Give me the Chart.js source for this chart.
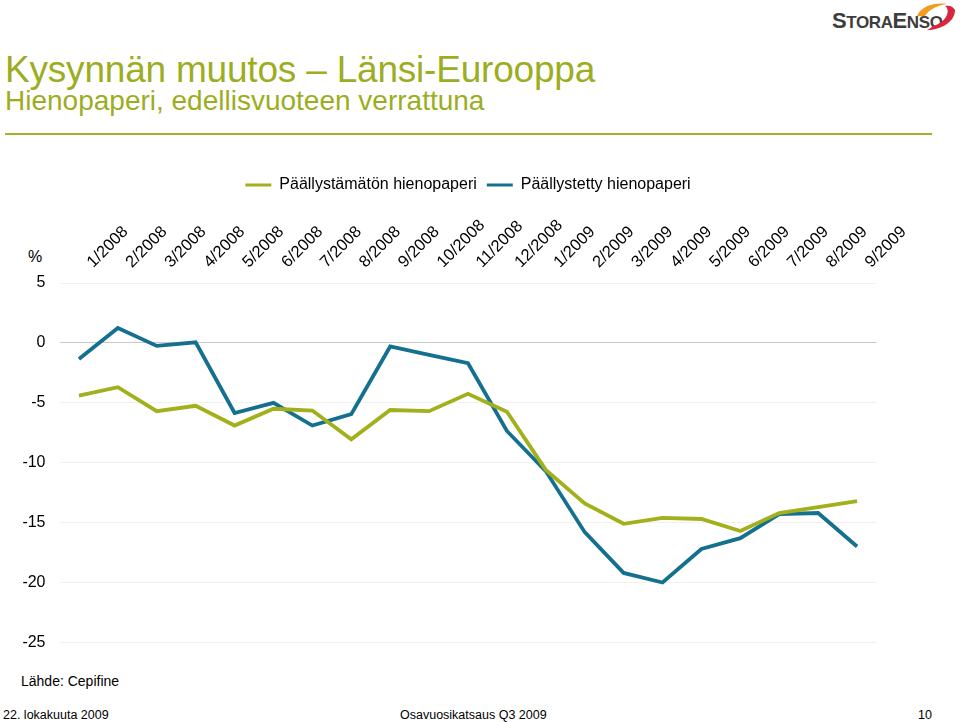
<!DOCTYPE html>
<html>
<head>
<meta charset="utf-8">
<script src="https://cdn.jsdelivr.net/npm/chart.js@4.4.1/dist/chart.umd.min.js"></script>
<style>
  html, body { margin: 0; padding: 0; background: #fff; overflow: hidden; }
  body { width: 960px; height: 722px; position: relative; font-family: "Liberation Sans", Arial, sans-serif; }
  .abs { position: absolute; white-space: nowrap; line-height: 1; }
  #title { left: 5px; top: 50.6px; font-size: 37px; color: #9cad1f; letter-spacing: -0.2px; }
  #subtitle { left: 5px; top: 87px; font-size: 28px; color: #9cad1f; }
  #rule { position: absolute; left: 5px; top: 133px; width: 927px; height: 2px; background: #a4b227; }
  #pct { left: 28px; top: 248.5px; font-size: 16px; color: #000; }
  #source { left: 21px; top: 674px; font-size: 14px; color: #000; }
  .foot { top: 709px; font-size: 12.5px; color: #000; }
  #logo { left: 832px; top: 10px; color: #3d3d3d; font-weight: bold; letter-spacing: -0.4px; }
  #chartwrap { position: absolute; left: 0; top: 167px; width: 960px; height: 499px; }
</style>
</head>
<body>
<div class="abs" id="title">Kysynnän muutos – Länsi-Eurooppa</div>
<div class="abs" id="subtitle">Hienopaperi, edellisvuoteen verrattuna</div>
<div id="rule"></div>
<div class="abs" id="logo"><span style="font-size:22px">S</span><span style="font-size:17px">TORA</span><span style="font-size:22px">E</span><span style="font-size:17px">NSO</span></div>
<svg style="position:absolute;left:905px;top:0px" width="55" height="34" viewBox="0 0 55 34">
  <path d="M12 16 C 16 6, 30 2, 42 4 C 34 5, 24 9, 20 16 Z" fill="#f39c1f"/>
  <path d="M22 30 C 36 30, 50 22, 50 10 C 48 6, 44 5, 40 6 C 46 10, 42 22, 28 26 C 26 28, 24 29, 22 30 Z" fill="#d7263d"/>
</svg>
<div class="abs" id="pct">%</div>
<div id="chartwrap"><canvas id="c" width="960" height="499"></canvas></div>
<div class="abs" id="source">Lähde: Cepifine</div>
<div class="abs foot" style="left:3px">22. lokakuuta 2009</div>
<div class="abs foot" style="left:400px">Osavuosikatsaus Q3 2009</div>
<div class="abs foot" style="left:918px">10</div>
<script>
const months = ["1/2008","2/2008","3/2008","4/2008","5/2008","6/2008","7/2008","8/2008","9/2008","10/2008","11/2008","12/2008",
                "1/2009","2/2009","3/2009","4/2009","5/2009","6/2009","7/2009","8/2009","9/2009"];
const uncoatedLabel = "Päällystämätön hienopaperi";
const coatedLabel = "Päällystetty hienopaperi";
const uncoated = [-4.4, -3.7, -5.7, -5.25, -6.9, -5.5, -5.65, -8.05, -5.6, -5.7, -4.25, -5.75, -10.6, -13.4, -15.1, -14.6, -14.7, -15.7, -14.2, -13.7, -13.2];
const coated   = [-1.35, 1.25, -0.25, 0.05, -5.85, -5.0, -6.9, -5.95, -0.3, -1.0, -1.7, -7.35, -10.7, -15.8, -19.2, -20.0, -17.2, -16.3, -14.3, -14.2, -17.0];
const yMin = -25, yMax = 5, yStep = 5;

const GREEN = "#a2b01c", BLUE = "#15708f";
const FONT = "'Liberation Sans', Arial, sans-serif";

new Chart(document.getElementById("c"), {
  type: "line",
  data: {
    labels: months,
    datasets: [
      { label: uncoatedLabel, data: uncoated, borderColor: GREEN, backgroundColor: GREEN, borderWidth: 3.8, pointRadius: 0, tension: 0 },
      { label: coatedLabel, data: coated, borderColor: BLUE, backgroundColor: BLUE, borderWidth: 3.8, pointRadius: 0, tension: 0 }
    ]
  },
  options: {
    responsive: false,
    animation: false,
    devicePixelRatio: 1,
    layout: { padding: { left: 0, right: 83.5, top: 0, bottom: 0 } },
    plugins: {
      tooltip: { enabled: false },
      legend: {
        position: "top",
        fullSize: false,
        labels: {
          color: "#000",
          font: { family: FONT, size: 16 },
          boxWidth: 26,
          boxHeight: 3,
          padding: 10,
          generateLabels(chart) {
            const items = Chart.defaults.plugins.legend.labels.generateLabels(chart);
            items.forEach(i => { i.lineWidth = 0; });
            return items;
          }
        }
      }
    },
    scales: {
      x: {
        position: "top",
        offset: true,
        grid: { display: false, drawTicks: false },
        border: { display: false },
        ticks: {
          color: "#000",
          font: { family: FONT, size: 16.5 },
          minRotation: 45, maxRotation: 45,
          padding: 11,
          labelOffset: 25,
          autoSkip: false
        },
        afterFit(scale) { scale.height = 80; }
      },
      y: {
        min: yMin, max: yMax,
        grid: {
          drawTicks: false,
          color: ctx => (ctx.tick && ctx.tick.value === 0) ? "#c8c8c8" : "#f1f1f1",
          lineWidth: 1
        },
        border: { display: false },
        ticks: {
          stepSize: yStep,
          color: "#000",
          font: { family: FONT, size: 16 },
          padding: 14
        },
        afterFit(scale) { scale.width = 59.5; }
      }
    }
  }
});
</script>
</body>
</html>
